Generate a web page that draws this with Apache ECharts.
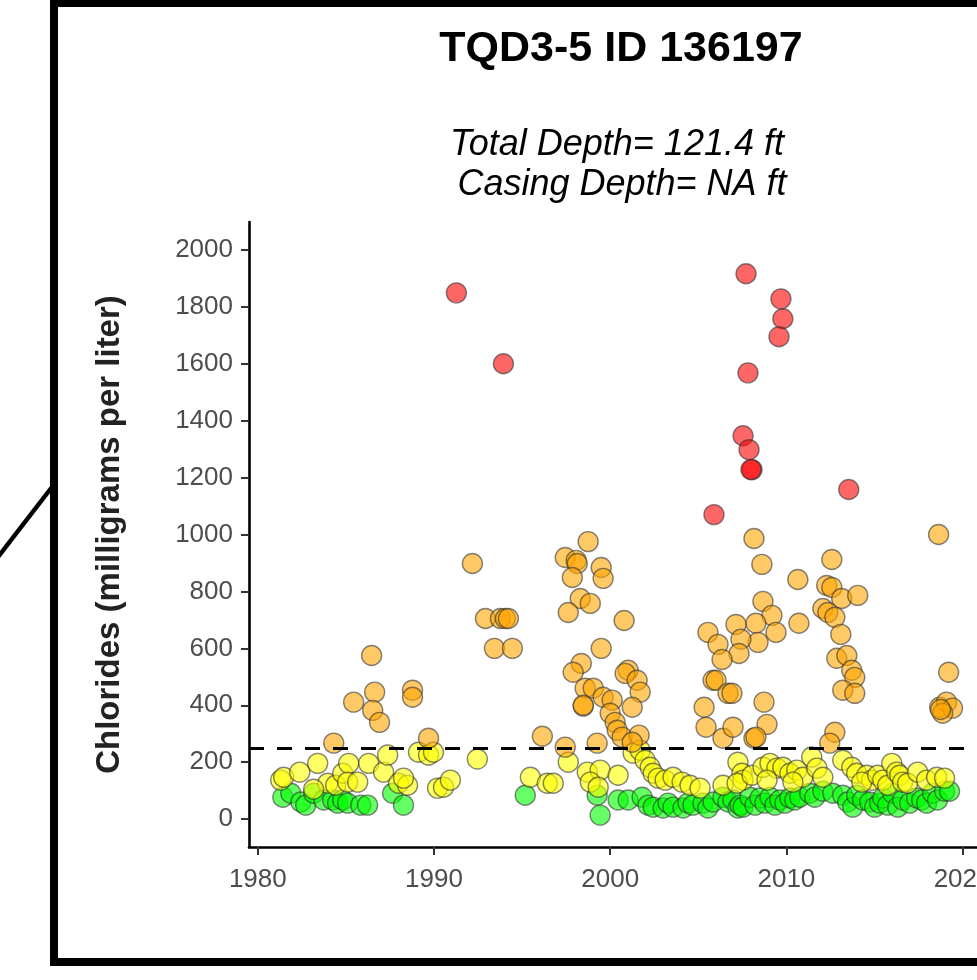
<!DOCTYPE html>
<html>
<head>
<meta charset="utf-8">
<script src="https://cdn.jsdelivr.net/npm/echarts@6/dist/echarts.min.js"></script>
<style>
html,body{margin:0;padding:0;background:#fff;overflow:hidden;}
#chart{width:977px;height:980px;}
</style>
</head>
<body>
<div id="chart"></div>
<script>
// ---- Data: [year, chlorides mg/L] ----
const redPoints = [
  [1991.27,1849],[1993.94,1600],[2005.89,1070],[2007.71,1916],[2009.69,1828],[2009.80,1758],
  [2009.58,1695],[2007.82,1568],[2007.54,1347],[2007.88,1298],[2008.05,1228],[2007.99,1228],
  [2013.54,1158]
];
const orangePoints = [
  [1984.31,267],[1985.44,411],[1986.46,575],[1986.63,446],[1986.52,382],[1986.91,340],
  [1988.78,453],[1988.78,428],[1989.69,284],
  [1992.18,898],[1992.92,705],[1993.77,705],[1994.05,705],[1994.22,705],[1993.43,600],[1994.45,600],
  [1996.15,291],[1997.45,253],[1998.75,975],[1997.45,919],[1998.07,909],[1998.13,898],[1997.85,849],
  [1999.49,884],[1999.60,846],[1998.30,775],[1998.87,758],[1997.62,726],[2000.79,698],[1999.49,600],
  [1998.36,547],[1997.90,516],[1998.58,460],[1999.04,460],[1998.47,397],[1998.47,400],[1999.60,428],
  [2000.11,418],[2001.02,523],[2000.85,512],[2001.53,488],[2001.70,446],[2001.25,393],[2000.00,372],
  [2000.28,340],[2000.40,312],[2000.68,288],[2001.64,295],[2001.25,270],[1999.26,267],
  [2008.16,986],[2008.61,895],[2010.65,842],[2008.67,765],[2009.18,716],[2008.27,688],[2009.41,656],
  [2010.71,688],[2008.39,621],[2007.14,684],[2007.42,632],[2007.31,582],[2005.55,656],[2006.12,614],
  [2006.35,561],[2005.84,488],[2006.01,488],[2006.69,442],[2006.91,442],[2005.33,393],[2005.44,323],
  [2006.40,284],[2006.97,323],[2008.73,411],[2008.90,333],[2008.16,284],[2008.27,288],
  [2012.58,912],[2012.29,821],[2012.58,814],[2013.14,775],[2014.05,786],[2012.07,740],[2012.35,726],
  [2012.75,709],[2013.09,649],[2012.86,565],[2013.43,575],[2013.71,523],[2013.88,498],[2013.20,453],
  [2013.88,442],[2012.75,305],[2012.46,267],[2018.64,1000],[2019.21,516],[2018.70,393],[2019.09,411],
  [2019.43,390],[2018.87,372],[2018.75,385]
];
const yellowPoints = [
  [1981.30,137],[1981.47,147],[1982.38,165],[1983.40,196],[1983.97,126],[1983.17,105],[1984.42,119],
  [1984.82,161],[1985.16,196],[1985.10,130],[1985.67,130],[1986.29,196],[1987.14,165],[1987.37,225],
  [1987.99,126],[1988.50,119],[1988.27,144],[1989.12,235],[1989.69,225],[1989.97,235],[1990.20,109],
  [1990.54,112],[1990.93,137],[1992.46,211],
  [1995.47,147],[1996.43,126],[1996.77,126],[1997.62,200],[1998.70,165],[1999.43,172],[2000.45,154],
  [1998.87,130],[1999.32,112],[2001.30,232],[2001.70,242],[2001.98,207],[2002.27,182],[2002.44,161],
  [2002.72,144],[2003.12,137],[2003.57,147],[2004.08,130],[2004.53,119],[2005.10,109],[2006.40,119],
  [2007.25,200],[2007.48,161],[2007.54,137],[2007.20,126],[2008.05,154],[2008.67,182],[2009.07,196],
  [2009.46,179],[2009.80,182],[2010.20,161],[2010.59,172],[2010.93,147],[2011.44,218],[2011.73,179],
  [2012.07,147],[2008.90,137],[2010.37,130],
  [2013.20,207],[2013.71,182],[2013.99,161],[2014.56,154],[2014.84,137],[2014.28,130],[2015.18,154],
  [2015.47,137],[2015.75,119],[2015.98,196],[2016.26,165],[2016.43,154],[2016.60,130],[2016.88,126],
  [2017.45,165],[2017.96,137],[2018.53,147],[2018.98,144]
];
const greenPoints = [
  [1981.42,77],[1981.87,91],[1982.44,60],[1982.72,49],[1983.17,91],[1983.74,67],[1984.25,67],
  [1984.53,56],[1984.82,67],[1985.10,56],[1985.84,49],[1986.23,49],[1987.65,91],[1988.27,49],
  [1995.18,84],[1999.26,84],[1999.43,14],[2000.45,67],[2001.02,67],[2001.81,77],
  [2002.15,49],[2002.44,42],[2003.00,39],[2003.29,56],[2003.57,42],[2004.14,39],[2004.42,56],
  [2004.70,49],[2005.27,56],[2005.55,39],[2005.84,60],[2006.40,77],[2006.69,60],[2006.97,67],
  [2007.25,39],[2007.37,49],[2007.54,42],[2007.93,77],[2008.22,49],[2008.50,74],[2008.78,56],
  [2009.07,77],[2009.35,49],[2009.63,67],[2009.92,56],[2010.20,74],[2010.48,67],[2010.76,77],
  [2011.33,91],[2011.61,77],[2012.07,98],[2012.63,91],[2013.20,84],[2013.48,60],[2013.77,42],
  [2013.99,84],[2014.33,67],[2014.73,60],[2015.01,42],[2015.30,56],[2015.47,74],[2015.75,49],
  [2016.03,91],[2016.32,42],[2016.60,67],[2017.00,56],[2017.39,74],[2017.68,67],[2017.96,56],
  [2018.30,91],[2018.58,67],[2018.98,98],[2019.26,98]
];
const xTicks = [1980, 1990, 2000, 2010, 2020];
const yTicks = [0, 200, 400, 600, 800, 1000, 1200, 1400, 1600, 1800, 2000];
const thresholdValue = 250;
const titleText = 'TQD3-5 ID 136197';
const subtitleText = 'Total Depth= 121.4 ft\n Casing Depth= NA ft';
const yAxisTitle = 'Chlorides (milligrams per liter)';

// ---- Chart ----
const FONT = "'Liberation Sans', Arial, sans-serif";
const chart = echarts.init(document.getElementById('chart'), null, {renderer: 'canvas'});

function scatter(name, data, color) {
  return {
    name: name, type: 'scatter', data: data, symbolSize: 20,
    itemStyle: {color: color, opacity: 0.6, borderColor: '#333', borderWidth: 1.4},
    emphasis: {disabled: true}, silent: true, z: 3
  };
}
const plain = v => String(v);

const option = {
  backgroundColor: '#fff',
  animation: false,
  title: [
    {text: titleText, left: 621, top: 28, textAlign: 'center', padding: 0,
     textStyle: {fontFamily: FONT, fontSize: 43, fontWeight: 'bold', color: '#000'}},
    {text: subtitleText, left: 617, top: 125, textAlign: 'center', padding: 0,
     textStyle: {fontFamily: FONT, fontSize: 36, fontStyle: 'italic', fontWeight: 'normal', color: '#000', lineHeight: 40}}
  ],
  grid: {left: 249, right: -12, top: 222, bottom: 133, containLabel: false, outerBoundsMode: 'none'},
  xAxis: {
    type: 'value', min: 1979.5, max: 2021.5,
    axisLine: {show: true, onZero: false, lineStyle: {color: '#000', width: 2.6}},
    axisTick: {show: true, customValues: xTicks, length: 8, lineStyle: {color: '#333', width: 2}},
    axisLabel: {customValues: xTicks, formatter: plain, margin: 20, fontFamily: FONT, fontSize: 26, color: '#4d4d4d', hideOverlap: false},
    splitLine: {show: false}
  },
  yAxis: {
    type: 'value', min: -98, max: 2098,
    name: yAxisTitle, nameLocation: 'middle', nameRotate: 90, nameGap: 123,
    nameTextStyle: {fontFamily: FONT, fontSize: 33, fontWeight: 'bold', color: '#222'},
    axisLine: {show: true, onZero: false, lineStyle: {color: '#000', width: 2.6}},
    axisTick: {show: true, customValues: yTicks, length: 8, lineStyle: {color: '#333', width: 2}},
    axisLabel: {customValues: yTicks, formatter: plain, margin: 16, fontFamily: FONT, fontSize: 26, color: '#4d4d4d'},
    splitLine: {show: false}
  },
  series: [
    scatter('green', greenPoints, '#00ff00'),
    scatter('yellow', yellowPoints, '#ffff00'),
    scatter('orange', orangePoints, '#ffa500'),
    scatter('red', redPoints, '#ff0000'),
    {
      type: 'line', data: [], silent: true,
      markLine: {
        silent: true, symbol: ['none', 'none'], label: {show: false},
        lineStyle: {color: '#000', width: 3, type: [15, 13]},
        data: [{yAxis: thresholdValue}]
      }
    }
  ],
  graphic: [
    {type: 'rect', z: 100, silent: true,
     shape: {x: 54, y: 3, width: 1000, height: 959},
     style: {fill: null, stroke: '#000', lineWidth: 8}},
    {type: 'line', z: 100, silent: true,
     shape: {x1: -2, y1: 557, x2: 52, y2: 487},
     style: {stroke: '#000', lineWidth: 4.5}}
  ]
};
chart.setOption(option);
</script>
</body>
</html>
